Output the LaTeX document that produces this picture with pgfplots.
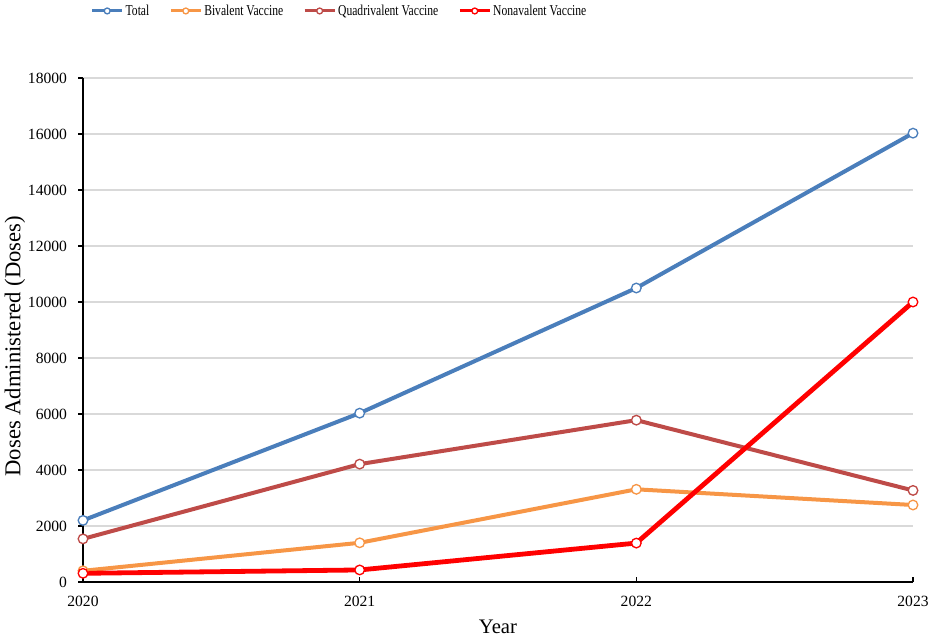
\documentclass[border=0pt]{standalone}
\usepackage{fontspec}
\setmainfont{Liberation Serif}
\usepackage{pgfplots}
\pgfplotsset{compat=1.18}
\definecolor{cTotal}{HTML}{4A7EBB}
\definecolor{cBi}{HTML}{F79646}
\definecolor{cQuad}{HTML}{BE4B48}
\definecolor{cNona}{HTML}{FF0000}
\definecolor{cGrid}{HTML}{D9D9D9}
\newcommand{\leg}[1]{\scalebox{0.77}[1]{#1}}
\begin{document}
\begin{tikzpicture}
\useasboundingbox (-62.25pt,-42.75pt) rectangle (637.5pt,436.5pt);
\begin{axis}[
  scale only axis,
  width=622.5pt, height=378pt,
  xmin=2020, xmax=2023, ymin=0, ymax=18000,
  xtick={2020,2021,2022,2023},
  ytick={0,2000,...,18000},
  scaled y ticks=false, scaled x ticks=false,
  axis lines=left,
  axis line style={-, line width=1.1pt, black},
  every tick/.style={black, line width=1pt},
  xtick align=inside, ytick align=outside,
  major tick length=3.5pt,
  ymajorgrids=true,
  major grid style={cGrid, line width=1.3pt},
  /pgf/number format/1000 sep={},
  /pgf/number format/assume math mode=true,
  tick label style={font=\fontsize{11.7}{13}\selectfont},
  xticklabel style={yshift=-7pt},
  yticklabel style={xshift=-5pt},
  xlabel={Year},
  ylabel={Doses Administered (Doses)},
  xlabel style={font=\fontsize{15.5}{17}\selectfont, at={(axis description cs:0.5,-0.0893)}, anchor=center},
  ylabel style={font=\fontsize{17}{19}\selectfont, at={(axis description cs:-0.0819,0.468)}, anchor=center},
  legend columns=4,
  legend style={at={(axis description cs:0.009,1.133)}, anchor=west, draw=none, fill=none, inner sep=0pt,
    font=\fontsize{11.3}{13}\selectfont,
    /tikz/every even column/.append style={column sep=13.5pt},
    nodes={inner sep=1.5pt}},
  legend image code/.code={\draw[mark repeat=2,mark phase=2,#1,line width=2.2pt,mark size=2.2pt] plot coordinates {(0pt,0pt)(11.25pt,0pt)(22.5pt,0pt)};},
  every axis plot/.append style={line width=3pt, mark=*, mark size=3.6pt},
  clip=false,
]
\addplot[color=cTotal, mark options={fill=white, line width=1pt}] coordinates {(2020,2200) (2021,6030) (2022,10500) (2023,16030)};
\addlegendentry{\leg{Total}}
\addplot[color=cBi, mark options={fill=white, line width=1pt}] coordinates {(2020,400) (2021,1400) (2022,3310) (2023,2750)};
\addlegendentry{\leg{Bivalent Vaccine}}
\addplot[color=cQuad, mark options={fill=white, line width=1pt}] coordinates {(2020,1540) (2021,4210) (2022,5780) (2023,3270)};
\addlegendentry{\leg{Quadrivalent Vaccine}}
\addplot[color=cNona, line width=3.6pt, mark options={fill=white, line width=1pt}] coordinates {(2020,310) (2021,430) (2022,1390) (2023,10000)};
\addlegendentry{\leg{Nonavalent Vaccine}}
\end{axis}
\end{tikzpicture}
\end{document}
